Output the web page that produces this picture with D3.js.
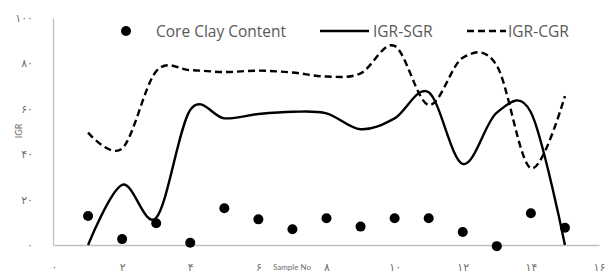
<!DOCTYPE html>
<html>
<head>
<meta charset="utf-8">
<script src="https://cdn.jsdelivr.net/npm/d3@7"></script>
<style>
  body { margin: 0; background: #fff; }
  svg { display: block; }
</style>
</head>
<body>
<svg id="chart" width="614" height="273"></svg>
<script>
// ---- data ----
const sampleNo = [1, 2, 3, 4, 5, 6, 7, 8, 9, 10, 11, 12, 13, 14, 15];
const coreClay = [12.8, 2.6, 9.6, 1.0, 16.2, 11.3, 6.9, 11.8, 8.1, 11.8, 11.8, 5.7, -0.5, 14.0, 7.6];
const igrSGR   = [0, 26.5, 12, 59.5, 55.8, 57.7, 58.7, 58, 51, 55.8, 67.3, 35.7, 58.3, 58.5, 0];
const igrCGR   = [49.5, 42.5, 76.5, 77, 76.2, 76.8, 76, 74.2, 75.6, 87.7, 61.7, 82.5, 79, 33.8, 65.6];
const xTickValues = [0, 2, 4, 6, 8, 10, 12, 14, 16];
const xTickLabels = ["۰", "۲", "۴", "۶", "۸", "۱۰", "۱۲", "۱۴", "۱۶"];
const yTickValues = [0, 20, 40, 60, 80, 100];
const yTickLabels = ["۰", "۲۰", "۴۰", "۶۰", "۸۰", "۱۰۰"];
const legendLabels = ["Core Clay Content", "IGR-SGR", "IGR-CGR"];
const xTitle = "Sample No";
const yTitle = "IGR";

// ---- layout ----
const svg = d3.select("#chart");
const x = d3.scaleLinear().domain([0, 16]).range([54, 599]);
const y = d3.scaleLinear().domain([0, 100]).range([245, 18]);
const grey = "#bfbfbf";
const textGrey = "#6e6e6e";
const digitFont = "'DejaVu Sans', sans-serif";

// axes
const xAxis = d3.axisBottom(x).tickValues(xTickValues)
  .tickFormat((d, i) => xTickLabels[i]).tickSize(0).tickPadding(18);
const gx = svg.append("g").attr("transform", `translate(0,${y(0)})`).call(xAxis);
gx.select(".domain").attr("stroke", grey).attr("stroke-width", 1.3);
gx.selectAll("text").attr("font-family", digitFont).attr("font-size", 11).attr("fill", textGrey);

const yAxis = d3.axisLeft(y).tickValues(yTickValues)
  .tickFormat((d, i) => yTickLabels[i]).tickSize(0).tickPadding(20);
const gy = svg.append("g").attr("transform", `translate(${x(0) - 1},0)`).call(yAxis);
gy.select(".domain").attr("stroke", grey).attr("stroke-width", 1.3);
gy.selectAll("text").attr("font-family", digitFont).attr("font-size", 11).attr("fill", textGrey);

// axis titles
svg.append("text").attr("x", 292).attr("y", 270).attr("text-anchor", "middle")
  .attr("font-family", "Lato, sans-serif").attr("font-size", 8).attr("fill", textGrey)
  .text(xTitle);
svg.append("text").attr("transform", "translate(22,131) rotate(-90)").attr("text-anchor", "middle")
  .attr("font-family", "Lato, sans-serif").attr("font-size", 9).attr("fill", textGrey)
  .text(yTitle);

// lines
const curve = d3.curveCardinal.tension(0);
const lineGen = vals => d3.line().x((d, i) => x(sampleNo[i])).y(d => y(d)).curve(curve)(vals);

svg.append("path").attr("d", lineGen(igrCGR)).attr("fill", "none")
  .attr("stroke", "#000").attr("stroke-width", 2.4).attr("stroke-dasharray", "7,4");
svg.append("path").attr("d", lineGen(igrSGR)).attr("fill", "none")
  .attr("stroke", "#000").attr("stroke-width", 2.4);

// dots
svg.append("g").selectAll("circle").data(coreClay).join("circle")
  .attr("cx", (d, i) => x(sampleNo[i])).attr("cy", d => y(d)).attr("r", 5).attr("fill", "#000");

// legend
const lg = svg.append("g");
const ly = 31;
lg.append("circle").attr("cx", 126).attr("cy", ly).attr("r", 5).attr("fill", "#000");
lg.append("text").attr("x", 156).attr("y", ly + 6).text(legendLabels[0]);
lg.append("line").attr("x1", 320).attr("x2", 369).attr("y1", ly).attr("y2", ly)
  .attr("stroke", "#000").attr("stroke-width", 2.4);
lg.append("text").attr("x", 373).attr("y", ly + 6).text(legendLabels[1]);
lg.append("line").attr("x1", 467).attr("x2", 506).attr("y1", ly).attr("y2", ly)
  .attr("stroke", "#000").attr("stroke-width", 2.4).attr("stroke-dasharray", "7,4");
lg.append("text").attr("x", 508).attr("y", ly + 6).text(legendLabels[2]);
lg.selectAll("text").attr("font-family", "'Open Sans', sans-serif").attr("font-size", 15.5)
  .attr("fill", "#595959");
</script>
</body>
</html>
